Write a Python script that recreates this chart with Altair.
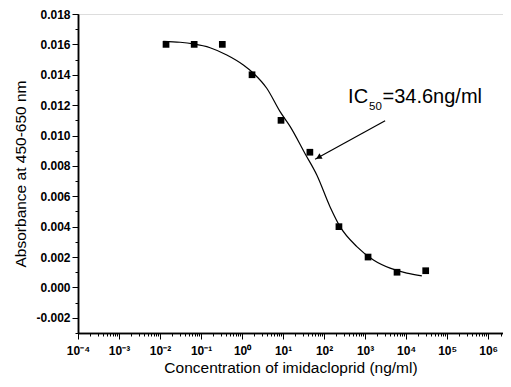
import altair as alt
import pandas as pd

# measured points (concentration ng/ml, absorbance)
conc_pts = [0.014, 0.068, 0.33, 1.75, 8.9, 45, 230, 1180, 6000, 30000]
abs_pts = [0.0160, 0.0160, 0.0160, 0.0140, 0.0110, 0.0089, 0.0040, 0.0020, 0.0010, 0.0011]

# fitted curve
conc_fit = [0.012, 0.0308, 0.0649, 0.166, 0.424, 1.076, 1.89, 4.0, 8.45, 14.8,
            34.4, 66.4, 140, 245, 628, 1593, 4070, 10400, 24200]
abs_fit = [0.0162, 0.01614, 0.01603, 0.01578, 0.0153, 0.01464, 0.0141, 0.01311,
           0.01157, 0.0106, 0.0088, 0.0074, 0.0053, 0.0040, 0.00269, 0.00181,
           0.00127, 0.00094, 0.00076]

# axis ticks
x_major = [1e-4, 1e-3, 1e-2, 1e-1, 1, 10, 100, 1e3, 1e4, 1e5, 1e6]
x_labels = ["10⁻⁴", "10⁻³", "10⁻²", "10⁻¹", "10⁰", "10¹", "10²", "10³", "10⁴", "10⁵", "10⁶"]
x_minor = [m * d for d in x_major for m in range(2, 10) if m * d <= 2.3e6]
y_major = [-0.002, 0.0, 0.002, 0.004, 0.006, 0.008, 0.010, 0.012, 0.014, 0.016, 0.018]
y_labels = ["-0.002", "0.000", "0.002", "0.004", "0.006", "0.008", "0.010", "0.012", "0.014", "0.016", "0.018"]
y_minor = [-0.003, -0.001, 0.001, 0.003, 0.005, 0.007, 0.009, 0.011, 0.013, 0.015, 0.017]

# annotation
ann_text = ["IC", "50", "=34.6ng/ml"]
ann_x = [384.6, 1250, 2650]
ann_y = [0.01214, 0.01165, 0.01214]
ann_size = [20, 11.5, 20]
arrow_x = [3076]
arrow_x2 = [60.3]
arrow_y = [0.010976]
arrow_y2 = [0.008434]
head_x = [73.5]
head_y = [0.00856]

FONT = "Liberation Sans"

x_label_arr = "[" + ",".join(f"'{l}'" for l in x_labels) + "]"
y_label_arr = "[" + ",".join(f"'{l}'" for l in y_labels) + "]"

xscale = alt.Scale(type="log", domain=[1e-4, 2.3e6])
yscale = alt.Scale(domain=[-0.003, 0.018], nice=False, zero=False)

common = dict(domainColor="black", domainWidth=1.5, tickColor="black", tickWidth=1, grid=False)

xaxis = alt.Axis(
    title="Concentration of imidacloprid (ng/ml)",
    values=x_major,
    labelExpr=f"{x_label_arr}[round(log(datum.value)/LN10)+4]",
    tickSize=6,
    labelFont=FONT, labelFontSize=12, labelFontWeight="bold", labelColor="black",
    titleFont=FONT, titleFontSize=15.5, titleFontWeight="normal", titleColor="black",
    titlePadding=4, labelPadding=6, labelFlush=False, labelOverlap=False,
    **common,
)
yaxis = alt.Axis(
    title="Absorbance at 450-650 nm",
    values=y_major,
    labelExpr=f"{y_label_arr}[round(datum.value*500)+1]",
    tickSize=6,
    labelFont=FONT, labelFontSize=12, labelFontWeight="bold", labelColor="black",
    titleFont=FONT, titleFontSize=15.5, titleFontWeight="normal", titleColor="black",
    titlePadding=7, labelPadding=2, labelOverlap=False,
    **common,
)
xaxis_minor = alt.Axis(title=None, values=x_minor, labels=False, tickSize=3, orient="bottom", **common)
yaxis_minor = alt.Axis(title=None, values=y_minor, labels=False, tickSize=3, orient="left", **common)

pts = pd.DataFrame({"c": conc_pts, "a": abs_pts})
fit = pd.DataFrame({"c": conc_fit, "a": abs_fit})
ann = pd.DataFrame({"c": ann_x, "a": ann_y, "t": ann_text, "s": ann_size})
arr = pd.DataFrame({"c": arrow_x, "c2": arrow_x2, "a": arrow_y, "a2": arrow_y2})
head = pd.DataFrame({"c": head_x, "a": head_y})

line = alt.Chart(fit).mark_line(color="black", strokeWidth=1.2, interpolate="monotone").encode(
    x=alt.X("c:Q", scale=xscale, axis=xaxis),
    y=alt.Y("a:Q", scale=yscale, axis=yaxis),
)
points = alt.Chart(pts).mark_point(shape="square", filled=True, color="black", size=45, opacity=1).encode(
    x=alt.X("c:Q", scale=xscale, axis=xaxis_minor), y=alt.Y("a:Q", scale=yscale, axis=yaxis_minor)
)
text = alt.Chart(ann).mark_text(align="left", baseline="alphabetic", font=FONT, color="black").encode(
    x=alt.X("c:Q", scale=xscale, axis=None), y=alt.Y("a:Q", scale=yscale, axis=None), text="t:N",
    size=alt.Size("s:Q", scale=None, legend=None),
)
shaft = alt.Chart(arr).mark_rule(color="black", strokeWidth=1.2).encode(
    x=alt.X("c:Q", scale=xscale, axis=None), x2="c2:Q", y=alt.Y("a:Q", scale=yscale, axis=None), y2="a2:Q"
)
arrowhead = alt.Chart(head).mark_point(shape="triangle-left", filled=True, color="black", size=40, angle=331, opacity=1).encode(
    x=alt.X("c:Q", scale=xscale, axis=None), y=alt.Y("a:Q", scale=yscale, axis=None)
)

chart = alt.layer(line, points, shaft, arrowhead, text).resolve_axis(
    x="independent", y="independent"
).properties(
    width=425, height=319,
    autosize=alt.AutoSizeParams(type="none"),
    padding={"left": 70, "top": 6, "right": 0, "bottom": 46},
).configure_view(stroke=None).configure(background="white")

chart.save("out.html", embed_options={"renderer": "svg", "actions": False})
